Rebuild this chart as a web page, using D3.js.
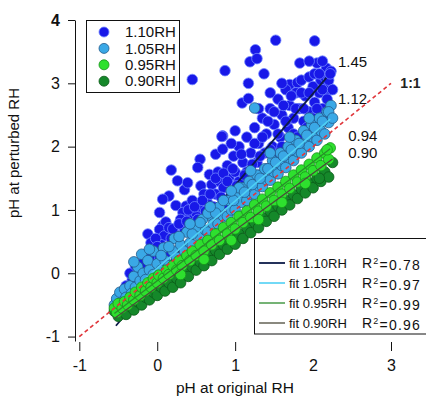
<!DOCTYPE html>
<html>
<head>
<meta charset="utf-8">
<script src="https://cdn.jsdelivr.net/npm/d3@7"></script>
<style>
  body { margin: 0; background: #fff; }
  svg { display: block; font-family: "Liberation Sans", Arial, sans-serif; }
</style>
</head>
<body>
<svg id="chart" width="426" height="399"></svg>
<script>
// series: [pH at original RH, pH at perturbed RH]
const rh110 = [
  [1.52,3.68],[2.02,3.67],[1.26,3.53],[1.19,3.34],[1.28,3.39],[0.45,3.06],[0.87,3.20],[1.37,3.15],
  [1.83,3.32],[2.05,3.32],[1.17,3.00],[1.09,2.69],[1.17,2.76],[0.84,2.17],[1.70,2.98],[1.80,3.01],
  [2.17,3.24],[2.23,3.19],[2.19,2.88],[0.18,1.63],[0.26,1.46],[0.83,2.16],[0.75,1.88],[0.84,1.96],
  [0.55,1.80],[0.52,1.67],[0.35,1.32],[0.39,1.43],[0.56,1.38],[0.67,1.56],[0.15,1.22],[0.07,1.17],
  [0.03,0.96],[0.24,1.07],[0.37,1.06],[0.63,1.17],[0.07,0.75],[0.33,0.96],[0.11,0.81],[0.03,0.69],
  [-0.12,0.62],[-0.08,0.48],[0.09,0.59],[0.15,0.72],
  [-0.52,-0.42],[-0.45,-0.30],[-0.40,-0.20],[-0.32,-0.10],[-0.25,0.05],[-0.20,0.15],[-0.15,0.30],
  [-0.05,0.35],[0.00,0.25],[0.05,0.45],[0.10,0.40],[0.18,0.55],[0.25,0.60],[0.30,0.85],[0.35,0.70],
  [0.42,0.90],[0.45,1.15],[0.50,0.95],[0.55,1.05],[0.60,1.25],[0.65,1.10],[0.70,1.40],[0.75,1.25],
  [0.78,1.60],[0.80,1.45],[0.85,1.35],[0.90,1.70],[0.92,1.50],[0.98,1.85],[1.00,1.60],[1.05,1.45],
  [1.05,2.00],[1.10,1.75],[1.15,1.60],[1.15,2.15],[1.20,1.90],[1.25,2.30],[1.28,1.75],[1.30,2.05],
  [1.35,2.45],[1.38,1.90],[1.40,2.20],[1.45,2.60],[1.48,2.00],[1.50,2.35],[1.55,2.75],[1.58,2.15],
  [1.60,2.50],[1.65,2.90],[1.68,2.30],[1.70,2.65],[1.75,2.45],[1.78,2.85],[1.82,2.60],[1.85,3.05],
  [1.88,2.40],[1.90,2.80],[1.95,2.55],[1.95,3.10],[2.00,2.95],[2.02,2.70],[2.08,2.85],[2.10,3.05],
  [2.12,2.60],[2.15,3.10],[2.20,2.95],[2.20,3.05],
  [0.20,0.70],[0.28,0.78],[0.38,0.82],[0.40,1.00],[0.48,1.05],[0.52,0.85],[0.58,1.15],[0.62,0.98],
  [0.68,1.25],[0.72,1.05],[0.75,1.50],[0.82,1.20],[0.85,1.58],[0.88,1.10],[0.90,1.45],[0.95,1.28],
  [0.97,1.65],[1.02,1.38],[1.08,1.88],[1.08,1.25],[1.12,1.55],[1.18,1.38],[1.22,1.72],[1.25,2.05],
  [1.30,1.55],[1.32,1.85],[1.35,2.15],[1.42,1.65],[1.42,2.40],[1.45,1.95],[1.50,2.55],[1.52,1.80],
  [1.55,2.20],[1.60,2.00],[1.62,2.65],[1.65,2.40],[1.70,1.95],[1.72,2.80],[1.75,2.20],[1.78,2.60],
  [1.80,2.15],[1.85,2.85],[1.88,2.60],[1.92,2.30],[1.95,2.85],[2.00,2.45],[2.02,3.15],[2.05,2.60],
  [2.08,3.15],[2.12,2.90],[2.15,2.45],[2.18,2.75],[2.22,3.15],[2.25,2.90],[1.95,3.35],[2.12,3.35],
  [1.60,3.00],[1.45,2.85],[1.30,2.60],[1.00,2.25],[0.95,2.05],[-0.35,0.00],[-0.28,0.12],[-0.10,0.25],
  [-0.02,0.55],[0.12,0.30],[0.00,0.42]
];
const rh105 = [
  [-0.55,-0.50],[-0.52,-0.40],[-0.50,-0.55],[-0.48,-0.30],[-0.45,-0.45],[-0.42,-0.25],[-0.40,-0.38],
  [-0.35,-0.20],[-0.33,-0.32],[-0.30,-0.05],[-0.28,-0.22],[-0.25,0.10],[-0.22,-0.12],[-0.20,0.30],
  [-0.18,0.00],[-0.15,-0.10],[-0.12,0.20],[-0.10,0.05],[-0.05,0.35],[-0.05,-0.02],[0.00,0.15],
  [0.05,0.05],[0.08,0.40],[0.10,0.20],[0.15,0.12],[0.20,0.35],[0.22,0.55],[0.25,0.25],[0.30,0.45],
  [0.35,0.35],[0.38,0.65],[0.42,0.48],[0.45,0.45],[0.50,0.70],[0.55,0.58],[0.58,0.85],[0.62,0.68],
  [0.65,0.65],[0.70,0.90],[0.72,0.78],[0.78,0.78],[0.80,1.05],[0.85,0.90],[0.90,0.90],[0.92,1.15],
  [0.95,1.00],[1.00,1.00],[1.02,1.25],[1.08,1.12],[1.10,1.35],[1.15,1.15],[1.18,1.45],[1.20,1.25],
  [1.25,1.25],[1.28,1.55],[1.30,1.38],[1.35,1.37],[1.38,1.65],[1.40,1.48],[1.45,1.47],[1.48,1.78],
  [1.50,1.60],[1.55,1.57],[1.58,1.90],[1.60,1.70],[1.65,1.67],[1.68,2.00],[1.70,1.82],[1.75,1.78],
  [1.78,2.10],[1.80,1.92],[1.85,1.90],[1.88,2.25],[1.90,2.05],[1.95,2.00],[1.98,2.35],[2.00,2.15],
  [2.05,2.10],[2.08,2.45],[2.10,2.25],[2.15,2.20],[2.18,2.55],[2.20,2.38],[2.23,2.65],[1.25,2.61],
  [0.05,0.28],[0.15,0.42],[0.28,0.58],[0.45,0.62],[0.55,0.80],[0.65,0.95],[0.75,0.95],[0.85,1.15],
  [0.98,1.15],[1.05,1.35],[1.12,1.28],[1.22,1.40],[1.32,1.50],[1.42,1.65],[1.52,1.75],[1.62,1.85],
  [1.72,1.95],[1.82,2.05],[1.92,2.18],[2.02,2.30],[2.12,2.40],[2.20,2.55],[2.25,2.45],[1.95,2.45],
  [1.70,2.15],[1.45,1.90],[1.20,1.62],[0.95,1.30],[0.68,1.05],[0.42,0.78],[-0.10,0.38],[-0.30,0.18]
];
const rh095 = [
  [-0.55,-0.55],[-0.52,-0.62],[-0.50,-0.48],[-0.45,-0.55],[-0.42,-0.45],[-0.38,-0.50],[-0.35,-0.38],
  [-0.30,-0.42],[-0.28,-0.30],[-0.22,-0.35],[-0.20,-0.22],[-0.15,-0.28],[-0.12,-0.15],[-0.08,-0.22],
  [-0.05,-0.08],[0.00,-0.15],[0.02,-0.03],[0.08,-0.08],[0.12,0.05],[0.15,-0.02],[0.20,0.12],
  [0.25,0.05],[0.28,0.20],[0.32,0.12],[0.38,0.28],[0.42,0.20],[0.45,0.35],[0.50,0.28],[0.55,0.45],
  [0.60,0.35],[0.65,0.52],[0.70,0.45],[0.75,0.62],[0.80,0.52],[0.85,0.72],[0.90,0.62],[0.95,0.80],
  [1.00,0.70],[1.05,0.90],[1.10,0.80],[1.15,0.98],[1.20,0.88],[1.25,1.08],[1.30,0.98],[1.35,1.17],
  [1.40,1.06],[1.45,1.27],[1.50,1.15],[1.55,1.36],[1.60,1.25],[1.65,1.45],[1.70,1.34],[1.75,1.55],
  [1.80,1.44],[1.85,1.63],[1.90,1.52],[1.95,1.72],[2.00,1.62],[2.05,1.82],[2.10,1.70],[2.15,1.90],
  [2.20,1.80],[2.22,1.98],[2.18,1.95],[0.30,-0.02],[0.60,0.22],[0.95,0.52],[1.30,0.85],[1.60,1.12],
  [1.90,1.42]
];
const rh090 = [
  [-0.55,-0.60],[-0.50,-0.68],[-0.45,-0.58],[-0.40,-0.65],[-0.35,-0.52],[-0.30,-0.58],[-0.25,-0.45],
  [-0.20,-0.50],[-0.15,-0.38],[-0.10,-0.42],[-0.05,-0.30],[0.00,-0.35],[0.05,-0.22],[0.10,-0.28],
  [0.15,-0.15],[0.20,-0.22],[0.25,-0.08],[0.30,-0.15],[0.35,0.00],[0.40,-0.05],[0.45,0.10],
  [0.50,0.05],[0.55,0.18],[0.60,0.12],[0.65,0.28],[0.70,0.20],[0.75,0.36],[0.80,0.30],[0.85,0.45],
  [0.90,0.38],[0.95,0.54],[1.00,0.46],[1.05,0.62],[1.10,0.55],[1.15,0.72],[1.20,0.64],[1.25,0.80],
  [1.30,0.72],[1.35,0.88],[1.40,0.82],[1.45,0.98],[1.50,0.90],[1.55,1.06],[1.60,1.00],[1.65,1.15],
  [1.70,1.08],[1.75,1.24],[1.80,1.18],[1.85,1.33],[1.90,1.27],[1.95,1.42],[2.00,1.35],[2.05,1.50],
  [2.10,1.45],[2.15,1.60],[2.20,1.52],[2.25,1.75],[2.08,1.50]
];

const seriesNames = ["1.10RH", "1.05RH", "0.95RH", "0.90RH"];
// fitted lines as drawn: slope, intercept, x range
const fitSlopes = [1.45, 1.06, 0.94, 0.90];
const fitIntercepts = [-0.06, 0.08, -0.12, -0.22];
const fitRanges = [[-0.53, 2.17], [-0.55, 2.22], [-0.55, 2.22], [-0.55, 2.25]];
const r2Values = ["0.78", "0.97", "0.99", "0.96"];
const slopeLabels = ["1.45", "1.12", "0.94", "0.90"];
const slopeLabelPos = [[2.32, 3.34], [2.32, 2.76], [2.45, 2.17], [2.45, 1.9]];
const xTicks = [-1, 0, 1, 2, 3];
const yTicks = [-1, 0, 1, 2, 3, 4];

const fill = ["#1818e8", "#3aa8e6", "#2ee02e", "#15882a"];
const edge = ["#6f84ff", "#245c8c", "#17901a", "#0b5a18"];
const fitColor = ["#0c1a48", "#4fd0f4", "#2b8a2b", "#4b4a3a"];
const fitWidth = [1.8, 1.6, 1.3, 1.3];

const svg = d3.select("#chart");
const x = d3.scaleLinear().domain([-1, 3]).range([79.3, 391]);
const y = d3.scaleLinear().domain([-1.07, 4]).range([341, 20]);
const fmt = d => String(d);

// y axis
const gy = svg.append("g").attr("transform", "translate(75,0)")
  .call(d3.axisLeft(y).tickValues(yTicks).tickFormat(fmt).tickSize(7).tickSizeOuter(0).tickPadding(8));
gy.selectAll("text").attr("font-size", 16).attr("fill", "#111")
  .attr("font-family", "Liberation Sans, Arial, sans-serif")
  .attr("font-weight", d => d === 4 ? "bold" : "normal");
gy.selectAll("line, path").attr("stroke", "#111");

// x axis: tick marks only, no baseline
const gx = svg.append("g").attr("transform", "translate(0,342)")
  .call(d3.axisBottom(x).tickValues(xTicks).tickFormat(fmt).tickSize(9).tickSizeOuter(0).tickPadding(9));
gx.select(".domain").remove();
gx.selectAll("text").attr("font-size", 16).attr("fill", "#111")
  .attr("font-family", "Liberation Sans, Arial, sans-serif");
gx.selectAll("line").attr("stroke", "#111").attr("stroke-opacity", d => d === 2 ? 0 : 1);

// axis titles
svg.append("text").attr("x", 235).attr("y", 393).attr("text-anchor", "middle")
  .attr("font-size", 15.5).attr("fill", "#111").text("pH at original RH");
svg.append("text").attr("transform", "translate(19,153) rotate(-90)").attr("text-anchor", "middle")
  .attr("font-size", 15).attr("fill", "#111").text("pH at perturbed RH");

// points, each series followed by its fit line
function drawPoints(pts, k) {
  svg.append("g").selectAll("circle").data(pts).join("circle")
    .attr("cx", d => x(d[0])).attr("cy", d => y(d[1])).attr("r", 5.3)
    .attr("fill", fill[k]).attr("stroke", edge[k]).attr("stroke-width", 0.8);
}
function drawFit(i) {
  const [a, b] = fitRanges[i];
  const m = fitSlopes[i], c = fitIntercepts[i];
  svg.append("line")
    .attr("x1", x(a)).attr("y1", y(m * a + c))
    .attr("x2", x(b)).attr("y2", y(m * b + c))
    .attr("stroke", fitColor[i]).attr("stroke-width", fitWidth[i]);
}
drawPoints(rh110, 0); drawFit(0);
drawPoints(rh105, 1); drawFit(1);
drawPoints(rh090, 3);
drawPoints(rh095, 2);
drawFit(2); drawFit(3);

// 1:1 line
svg.append("line")
  .attr("x1", x(-1)).attr("y1", y(-1)).attr("x2", x(3)).attr("y2", y(3))
  .attr("stroke", "#e0353a").attr("stroke-width", 1.6).attr("stroke-dasharray", "4,3");
svg.append("text").attr("x", x(3.12)).attr("y", y(3.0)).attr("dy", "0.35em")
  .attr("font-size", 14).attr("font-weight", "bold").attr("fill", "#222").text("1:1");

// slope annotations
slopeLabels.forEach((s, i) => {
  svg.append("text").attr("x", x(slopeLabelPos[i][0])).attr("y", y(slopeLabelPos[i][1]))
    .attr("dy", "0.35em").attr("font-size", 15).attr("fill", "#111").text(s);
});

// legend of markers
const leg = svg.append("g");
leg.append("rect").attr("x", 86.5).attr("y", 20.5).attr("width", 93).attr("height", 72)
  .attr("fill", "#fff").attr("stroke", "#111");
seriesNames.forEach((n, i) => {
  const yy = 32 + i * 16.4;
  leg.append("circle").attr("cx", 104).attr("cy", yy).attr("r", 5)
    .attr("fill", fill[i]).attr("stroke", edge[i]).attr("stroke-width", 0.8);
  leg.append("text").attr("x", 125).attr("y", yy).attr("dy", "0.35em")
    .attr("font-size", 15).attr("fill", "#111").text(n);
});

// legend of fits
const fl = svg.append("g");
fl.append("rect").attr("x", 254.5).attr("y", 238.5).attr("width", 200).attr("height", 95.5)
  .attr("fill", "#fff").attr("stroke", "#111");
seriesNames.forEach((n, i) => {
  const yy = 263 + i * 20;
  fl.append("line").attr("x1", 259).attr("x2", 285).attr("y1", yy).attr("y2", yy)
    .attr("stroke", fitColor[i]).attr("stroke-width", fitWidth[i]);
  fl.append("text").attr("x", 289).attr("y", yy).attr("dy", "0.35em")
    .attr("font-size", 13).attr("fill", "#111").text("fit " + n);
  const t = fl.append("text").attr("x", 362).attr("y", yy).attr("dy", "0.35em")
    .attr("font-size", 14).attr("letter-spacing", 1.2).attr("fill", "#111");
  t.append("tspan").text("R");
  t.append("tspan").attr("dy", "-0.45em").attr("font-size", 9).text("2");
  t.append("tspan").attr("dy", "0.45em").text("=" + r2Values[i]);
});
</script>
</body>
</html>
